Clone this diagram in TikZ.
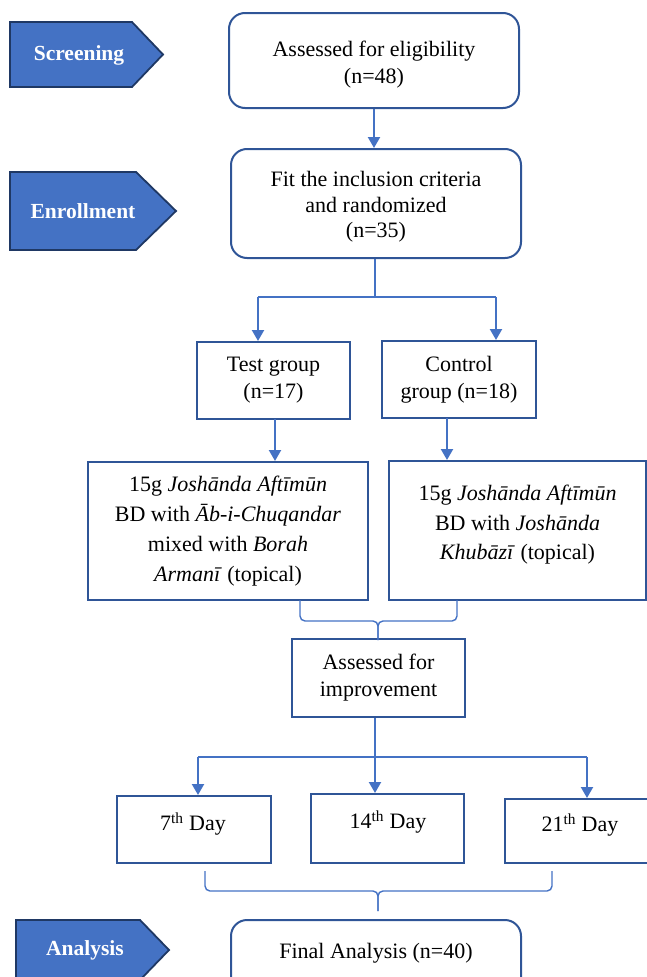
\documentclass[tikz,border=0pt]{standalone}
\usepackage{fontspec}
\setmainfont{Liberation Serif}
\usetikzlibrary{arrows.meta}
\definecolor{stagefill}{HTML}{4472C4}
\definecolor{stageedge}{HTML}{1F3864}
\definecolor{boxedge}{HTML}{2F5597}
\definecolor{linecol}{HTML}{4472C4}
\tikzset{
  stagepoly/.style={fill=stagefill, draw=stageedge, line width=1.8pt, line join=miter},
  stagetext/.style={text=white, font=\fontsize{21.5}{25}\selectfont\bfseries, inner sep=0pt},
  rbox/.style={draw=boxedge, line width=2pt, rounded corners=16pt, rectangle, align=center,
    font=\fontsize{22}{27}\selectfont, inner sep=0pt},
  sbox/.style={draw=boxedge, line width=2pt, rectangle, align=center,
    font=\fontsize{22}{27}\selectfont, inner sep=0pt},
  txt/.style={inner sep=0pt, align=center, font=\fontsize{22}{27}\selectfont},
  arr/.style={draw=linecol, line width=2.2pt, -{Triangle[width=12pt,length=11pt]}},
  ln/.style={draw=linecol, line width=2.2pt},
  brace/.style={draw=linecol, line width=1.4pt, rounded corners=5pt},
}
\begin{document}
\begin{tikzpicture}[x=1pt,y=-1pt]
\useasboundingbox (0,0) rectangle (647,977);
\clip (0,0) rectangle (647,977);
% stage arrows
\path[stagepoly] (10,22) -- (132,22) -- (163,54.5) -- (132,87) -- (10,87) -- cycle;
\node[stagetext] (scr) at (79,55) {Screening};
\path[stagepoly] (10,172) -- (136,172) -- (176,211) -- (136,250) -- (10,250) -- cycle;
\node[stagetext] (enr) at (83,211) {Enrollment};
\path[stagepoly] (16,920) -- (140,920) -- (169,950) -- (140,980) -- (16,980) -- cycle;
\node[stagetext] (ana) at (85,950) {Analysis};
% boxes
\node[rbox, minimum width=290pt, minimum height=95pt] (b1) at (374,60.5) {};
\node[txt] (b1t) at (374,64.5) {Assessed for eligibility\\(n=48)};
\node[rbox, minimum width=290pt, minimum height=109pt] (b2) at (376,203.5) {};
\node[txt, font=\fontsize{22}{25.5}\selectfont] (b2t) at (376,207) {Fit the inclusion criteria\\and randomized\\(n=35)};
\node[sbox, minimum width=153pt, minimum height=77pt] (test) at (273.5,380.5) {Test group\\(n=17)};
\node[sbox, minimum width=154pt, minimum height=77pt] (ctrl) at (459,379.5) {Control\\group (n=18)};
\node[sbox, minimum width=280pt, minimum height=138pt, font=\fontsize{22}{30}\selectfont] (b3) at (228,531)
  {15g \textit{Joshānda Aftīmūn}\\BD with \textit{Āb-i-Chuqandar}\\mixed with \textit{Borah}\\\textit{Armanī} (topical)};
\node[sbox, minimum width=257pt, minimum height=139pt] (b4) at (517.5,530.5) {};
\node[txt, font=\fontsize{22}{29.5}\selectfont] (b4t) at (517.5,525)
  {15g \textit{Joshānda Aftīmūn}\\BD with \textit{Joshānda}\\\textit{Khubāzī} (topical)};
\node[sbox, minimum width=173pt, minimum height=78pt] (imp) at (378.5,678) {Assessed for\\improvement};
\node[sbox, minimum width=154pt, minimum height=67pt] (d7) at (194,829.5) {};
\node[txt] (d7t) at (193,824) {7\textsuperscript{th} Day};
\node[sbox, minimum width=153pt, minimum height=69pt] (d14) at (387.5,828.5) {};
\node[txt] (d14t) at (388,822) {14\textsuperscript{th} Day};
\node[sbox, minimum width=160pt, minimum height=64pt] (d21) at (585,831) {};
\node[txt] (d21t) at (580,825) {21\textsuperscript{th} Day};
\node[rbox, minimum width=290pt, minimum height=76pt] (fin) at (376,958) {};
\node[txt] (fint) at (376,953.5) {Final Analysis (n=40)};
% connectors
\draw[arr] (b1.south) -- (b1.south |- b2.north);
\coordinate (s1) at (375,297);
\coordinate (tl) at (258,297);
\coordinate (tr) at (496,297);
\draw[ln] (b2.south -| s1) -- (s1);
\draw[ln] (tl) -- (tr);
\draw[arr] (tl) -- (tl |- test.north);
\draw[arr] (tr) -- (tr |- ctrl.north);
\coordinate (tb) at (275,419);
\draw[arr] (tb) -- (tb |- b3.north);
\coordinate (cb) at (447,418);
\draw[arr] (cb) -- (cb |- b4.north);
% brace to improvement
\coordinate (bl) at (300,600);
\coordinate (br) at (457,600);
\draw[brace] (bl) -- (300,621) -- (378,621) -- (378,640);
\draw[brace] (br) -- (457,621) -- (378,621) -- (378,640);
% improvement to days
\coordinate (s2) at (375,757);
\coordinate (dl) at (198,757);
\coordinate (dr) at (587,757);
\draw[ln] (imp.south -| s2) -- (s2);
\draw[ln] (dl) -- (dr);
\draw[arr] (dl) -- (dl |- d7.north);
\draw[arr] (s2) -- (s2 |- d14.north);
\draw[arr] (dr) -- (dr |- d21.north);
% brace to final
\coordinate (fl) at (205,871);
\coordinate (fr) at (552,871);
\draw[brace] (fl) -- (205,891) -- (378,891) -- (378,911);
\draw[brace] (fr) -- (552,891) -- (378,891) -- (378,911);
\end{tikzpicture}
\end{document}
